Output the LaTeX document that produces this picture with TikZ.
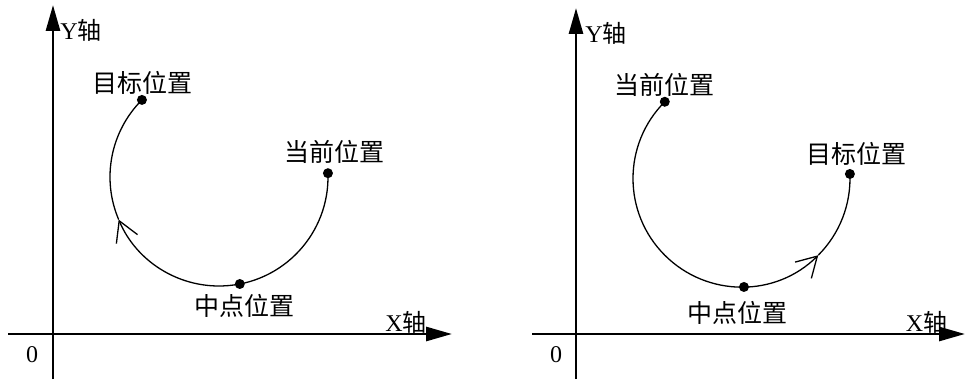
\documentclass[tikz,border=0pt]{standalone}
\usepackage{fontspec}
\setmainfont{Liberation Serif}
\newfontfamily\cjk{Noto Sans CJK SC}
\usetikzlibrary{arrows.meta,positioning}

\begin{document}
\begin{tikzpicture}[
  x=1pt, y=1pt,
  every node/.style={font=\fontsize{24}{28}\selectfont},
  dot/.style={circle, fill, inner sep=0pt, minimum size=10pt},
  lbl/.style={inner sep=0pt, font=\fontsize{25}{28}\selectfont\cjk},
  axis/.style={line width=2.8pt, -{Triangle[length=26pt, width=14pt]}},
  trk/.style={line width=1.3pt},
  dir/.style={trk, -{Straight Barb[angle=60:23pt, line width=1.3pt]}}
]
\useasboundingbox (0,0) rectangle (966,383);

% left
\coordinate (lx0) at (8,49);
\coordinate (lx1) at (452,49);
\coordinate (ly0) at (53,4);
\coordinate (ly1) at (53,378);
\coordinate (lc)  at (219,206);
\coordinate (la)  at ([shift={(-157:109)}]lc);
\node[dot] (lcur) at ([shift={(2:109)}]lc)    {};
\node[dot] (lmid) at ([shift={(-79:109)}]lc)  {};
\node[dot] (ltgt) at ([shift={(135:109)}]lc)  {};

\draw[axis] (lx0) -- (lx1);
\draw[axis] (ly0) -- (ly1);
\draw[dir] (lcur.center) arc[start angle=2, end angle=-157, radius=109pt];
\draw[trk] (la) arc[start angle=-157, end angle=-225, radius=109pt];

\node[lbl] (ltgtl) at (142.5,300) {目标位置};
\node[lbl] (lcurl) at (334.5,231) {当前位置};
\node[lbl] (lmidl) at (244.5,77)  {中点位置};
\node[inner sep=0pt] (lyl) at (81,353) {Y{\cjk 轴}};
\node[inner sep=0pt] (lxl) at (406,61) {X{\cjk 轴}};
\node[inner sep=0pt] (lo)  at (32,28)  {0};

% right
\coordinate (rx0) at (532,49);
\coordinate (rx1) at (965,49);
\coordinate (ry0) at (576,4);
\coordinate (ry1) at (576,375);
\coordinate (rc)  at (741.5,204.5);
\coordinate (ra)  at ([shift={(-45:108.5)}]rc);
\node[dot] (rcur) at ([shift={(135:108.5)}]rc)   {};
\node[dot] (rmid) at ([shift={(-88.7:108.5)}]rc) {};
\node[dot] (rtgt) at ([shift={(2.4:108.5)}]rc)   {};

\draw[axis] (rx0) -- (rx1);
\draw[axis] (ry0) -- (ry1);
\draw[dir] (rcur.center) arc[start angle=135, end angle=315, radius=108.5pt];
\draw[trk] (ra) arc[start angle=315, end angle=362.4, radius=108.5pt];

\node[lbl] (rcurl) at (664.5,298) {当前位置};
\node[lbl] (rtgtl) at (856.5,229) {目标位置};
\node[lbl] (rmidl) at (737,70)    {中点位置};
\node[inner sep=0pt] (ryl) at (606,350)  {Y{\cjk 轴}};
\node[inner sep=0pt] (rxl) at (926.5,61) {X{\cjk 轴}};
\node[inner sep=0pt] (ro)  at (556,28)   {0};

\end{tikzpicture}
\end{document}
